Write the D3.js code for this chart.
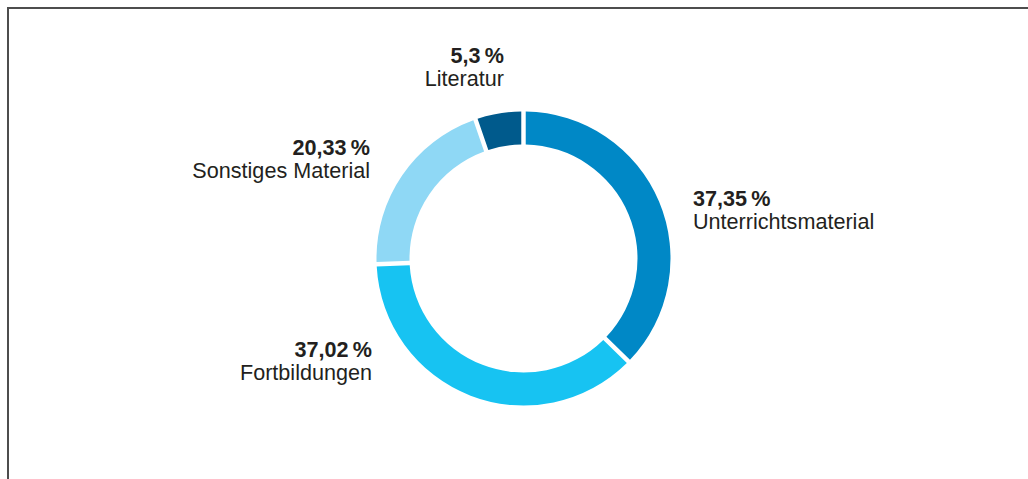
<!DOCTYPE html>
<html lang="de">
<head>
<meta charset="utf-8">
<script src="https://cdn.jsdelivr.net/npm/d3@7"></script>
<style>
  body { margin: 0; background: #fff; }
  text { font-family: "Liberation Sans", Arial, Helvetica, sans-serif; fill: #231f20; }
</style>
</head>
<body>
<div id="chart"></div>
<script>
// Daten
const categories = ["Unterrichtsmaterial", "Fortbildungen", "Sonstiges Material", "Literatur"];
const values = [37.35, 37.02, 20.33, 5.3];
const valueLabels = ["37,35\u2009%", "37,02\u2009%", "20,33\u2009%", "5,3\u2009%"];
const colors = ["#0088c6", "#17c3f2", "#8fd8f5", "#005a8c"];

// Maße
const W = 1028, H = 479;
const cx = 523.5, cy = 258.5;
const outerR = 147, innerR = 114;
const fontSize = 21.6, lineGap = 23;

// Position der Beschriftungen relativ zur Mitte
const labelLayout = [
  { dx: 169.5, dy: -52.5, anchor: "start" },
  { dx: -151.5, dy: 98.5, anchor: "end" },
  { dx: -153.5, dy: -103.5, anchor: "end" },
  { dx: -19.5, dy: -195.5, anchor: "end" }
];

const svg = d3.select("#chart").append("svg")
  .attr("width", W)
  .attr("height", H);

// Rahmen oben und links
svg.append("path")
  .attr("d", `M8,${H} V8 H${W}`)
  .attr("fill", "none")
  .attr("stroke", "#4d4d4d")
  .attr("stroke-width", 2);

const color = d3.scaleOrdinal().domain(categories).range(colors);

const data = categories.map((c, i) => ({ name: c, value: values[i], label: valueLabels[i], pos: labelLayout[i] }));

const pie = d3.pie()
  .value(d => d.value)
  .sort(null);

const arc = d3.arc()
  .innerRadius(innerR)
  .outerRadius(outerR)
  .padAngle(0.024);

const g = svg.append("g").attr("transform", `translate(${cx},${cy})`);

g.selectAll("path.slice")
  .data(pie(data))
  .join("path")
  .attr("class", "slice")
  .attr("d", arc)
  .attr("fill", d => color(d.data.name));

// Beschriftungen
const labels = g.selectAll("g.label")
  .data(data)
  .join("g")
  .attr("class", "label")
  .attr("transform", d => `translate(${d.pos.dx},${d.pos.dy})`)
  .attr("text-anchor", d => d.pos.anchor);

labels.append("text")
  .attr("font-size", fontSize)
  .attr("font-weight", "bold")
  .text(d => d.label);

labels.append("text")
  .attr("y", lineGap)
  .attr("font-size", fontSize)
  .text(d => d.name);
</script>
</body>
</html>
